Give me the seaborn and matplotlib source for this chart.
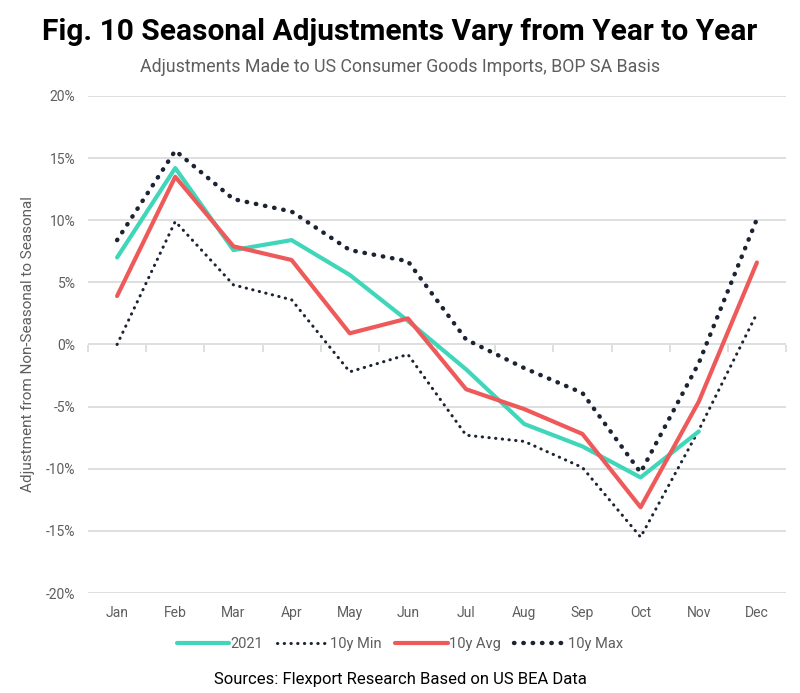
import matplotlib.pyplot as plt
import numpy as np
import pandas as pd
import seaborn as sns

# Data (adjustment in %)
months = ["Jan", "Feb", "Mar", "Apr", "May", "Jun",
          "Jul", "Aug", "Sep", "Oct", "Nov", "Dec"]
adj_2021 = [7.0, 14.2, 7.6, 8.4, 5.6, 1.9, -2.0, -6.4, -8.2, -10.7, -7.0, np.nan]
min_10y = [0.0, 9.9, 4.8, 3.6, -2.2, -0.8, -7.3, -7.8, -9.9, -15.5, -6.9, 2.5]
avg_10y = [3.9, 13.5, 7.9, 6.8, 0.9, 2.1, -3.6, -5.2, -7.2, -13.1, -4.6, 6.6]
max_10y = [8.4, 15.6, 11.7, 10.7, 7.6, 6.7, 0.4, -1.9, -3.9, -10.3, -1.5, 10.1]

teal = "#40D6B9"
red = "#EE5A5A"
navy = "#1C2333"
grey = "#5E5E5E"

sns.set_theme(style="white")
plt.rcParams['font.family'] = ['Roboto', 'DejaVu Sans']

df = pd.DataFrame({"month": months, "2021": adj_2021, "10y Min": min_10y,
                   "10y Avg": avg_10y, "10y Max": max_10y})

fig = plt.figure(figsize=(8, 6.93), dpi=100)
ax = fig.add_axes([0.11, 0.1443, 0.8725, 0.7172])

sns.lineplot(data=df, x="month", y="10y Max", ax=ax, color=navy, lw=3.2, sort=False,
             linestyle=(0, (0.1, 2.0)), dash_capstyle="round", label="10y Max", zorder=2)
sns.lineplot(data=df, x="month", y="10y Min", ax=ax, color=navy, lw=2.2, sort=False,
             linestyle=(0, (0.1, 2.1)), dash_capstyle="round", label="10y Min", zorder=2)
sns.lineplot(data=df, x="month", y="2021", ax=ax, color=teal, lw=3, sort=False,
             label="2021", zorder=3)
sns.lineplot(data=df, x="month", y="10y Avg", ax=ax, color=red, lw=3, sort=False,
             label="10y Avg", zorder=4)

ax.set_xlim(-0.5, 11.5)
ax.set_ylim(-20, 20)
ax.set_yticks(range(-20, 21, 5))
ax.set_yticklabels([f"{v}%" for v in range(-20, 21, 5)])
ax.yaxis.grid(True, color="#D9D9D9", lw=1.2)
ax.xaxis.grid(False)
for s in ax.spines.values():
    s.set_visible(False)
ax.tick_params(axis="both", length=0, labelsize=10, colors=grey, pad=9)
ax.set_xlabel("")
ax.set_ylabel("Adjustment from Non-Seasonal to Seasonal", fontsize=11, color=grey, labelpad=8)

# tick marks hanging below the zero line (location just under 0.5 -> bottom-aligned)
sec = ax.secondary_xaxis(0.4999)
sec.set_xticks(np.arange(-0.5, 12, 1))
sec.set_xticklabels([])
sec.tick_params(direction="out", length=5, color="#D9D9D9", width=1.2,
                labelbottom=False, labeltop=False)
for s in sec.spines.values():
    s.set_visible(False)

ax.get_legend().remove()
handles, labels = ax.get_legend_handles_labels()
order = [labels.index(k) for k in ["2021", "10y Min", "10y Avg", "10y Max"]]
fig.legend([handles[i] for i in order], [labels[i] for i in order], ncol=4,
           loc="center", bbox_to_anchor=(0.5, 0.071), frameon=False, fontsize=10.5,
           handlelength=3.6, handletextpad=0.1, columnspacing=0.9,
           labelcolor=grey)

fig.text(0.5, 0.954, "Fig. 10 Seasonal Adjustments Vary from Year to Year",
         ha="center", va="center", fontsize=21.5, fontweight="bold", color="black")
fig.text(0.5, 0.903, "Adjustments Made to US Consumer Goods Imports, BOP SA Basis",
         ha="center", va="center", fontsize=12.8, color=grey)
fig.text(0.5, 0.019, "Sources: Flexport Research Based on US BEA Data",
         ha="center", va="center", fontsize=12, color="black")

fig.savefig("out.png", dpi=100)
